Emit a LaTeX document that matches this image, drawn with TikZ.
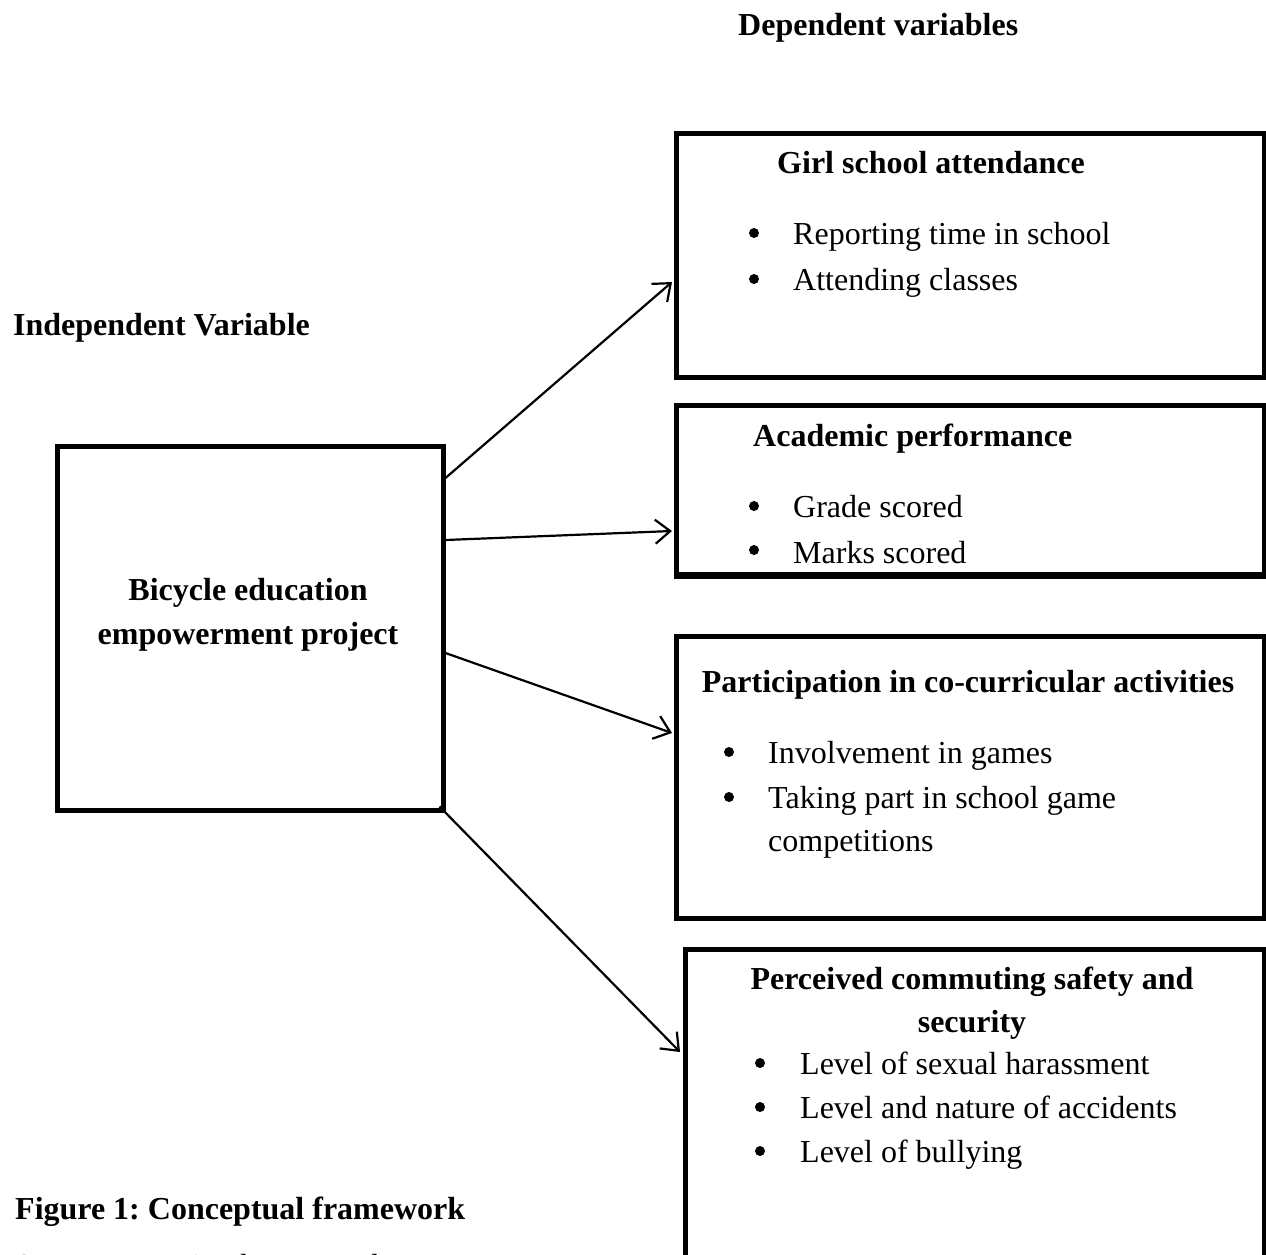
\documentclass[tikz,border=0pt]{standalone}
\usepackage{fontspec}
\setmainfont{Liberation Serif}
\usetikzlibrary{arrows.meta,calc}
\frenchspacing
\begin{document}
\begin{tikzpicture}[x=1pt,y=-1pt,
  box/.style={draw, line width=4.5pt, inner sep=0pt, anchor=north west},
  arr/.style={line width=2.2pt, -{Straight Barb[length=15pt,width=24pt]}},
  hd/.style={anchor=base west, inner sep=0pt, font=\fontsize{32}{38}\selectfont\bfseries},
  hdc/.style={anchor=base, inner sep=0pt, font=\fontsize{32}{38}\selectfont\bfseries},
  tx/.style={anchor=base west, inner sep=0pt, font=\fontsize{32}{38}\selectfont},
  bul/.style={circle, fill=black, inner sep=0pt, minimum size=10pt}
]
\useasboundingbox (0,0) rectangle (1266,1254);
\clip (0,0) rectangle (1266,1254);

% boxes
\node[box, minimum width=386pt, minimum height=364pt] (ind) at (55,444) {};
\node[box, minimum width=588pt, minimum height=244pt] (g1) at (674,131) {};
\node[box, minimum width=588pt, minimum height=169pt] (g2) at (674,403) {};
\node[box, minimum width=588pt, minimum height=282pt] (g3) at (674,634) {};
\node[box, minimum width=579pt, minimum height=400pt] (g4) at (683,947) {};

% headings
\node[hd] (dep) at (738,35) {Dependent variables};
\node[hd] (indep) at (13,335) {Independent Variable};
\node[hdc] (bic1) at (248,600) {Bicycle education};
\node[hdc] (bic2) at (248,644) {empowerment project};

% box 1
\node[hd] (g1t) at (777,173) {Girl school attendance};
\node[bul] (g1b1) at (754,233) {};
\node[tx] (g1l1) at (793,244) {Reporting time in school};
\node[bul] (g1b2) at (754,279) {};
\node[tx] (g1l2) at (793,290) {Attending classes};

% box 2
\node[hd] (g2t) at (753,446) {Academic performance};
\node[bul] (g2b1) at (754,506) {};
\node[tx] (g2l1) at (793,517) {Grade scored};
\node[bul] (g2b2) at (754,550) {};
\node[tx] (g2l2) at (793,563) {Marks scored};
% bottom border drawn again over the text, as in the original
\draw[line width=4.5pt] (g2.south west) -- (g2.south east);

% box 3
\node[hdc] (g3t) at (968,692) {Participation in co-curricular activities};
\node[bul] (g3b1) at (729,752) {};
\node[tx] (g3l1) at (768,763) {Involvement in games};
\node[bul] (g3b2) at (729,797) {};
\node[tx] (g3l2) at (768,808) {Taking part in school game};
\node[tx] (g3l3) at (768,851) {competitions};

% box 4
\node[hdc] (g4t1) at (972,989) {Perceived commuting safety and};
\node[hdc] (g4t2) at (972,1032) {security};
\node[bul] (g4b1) at (760,1063) {};
\node[tx] (g4l1) at (800,1074) {Level of sexual harassment};
\node[bul] (g4b2) at (760,1107) {};
\node[tx] (g4l2) at (800,1118) {Level and nature of accidents};
\node[bul] (g4b3) at (760,1151) {};
\node[tx] (g4l3) at (800,1162) {Level of bullying};

% caption
\node[hd] (cap) at (15,1219) {Figure 1: Conceptual framework};
\node[tx] (src) at (15,1276) {Source: Drawing by researcher};

% arrows
\draw[arr] ($(ind.north east)+(0,34)$) -- ($(g1.north west)+(-2,151)$);
\draw[arr] ($(ind.north east)+(0,96)$) -- ($(g2.north west)+(-2,128)$);
\draw[arr] ($(ind.north east)+(0,209)$) -- ($(g3.north west)+(-2,99)$);
\draw[arr] ($(ind.south east)+(-6,-6)$) -- ($(g4.north west)+(-3,105)$);
\end{tikzpicture}
\end{document}
